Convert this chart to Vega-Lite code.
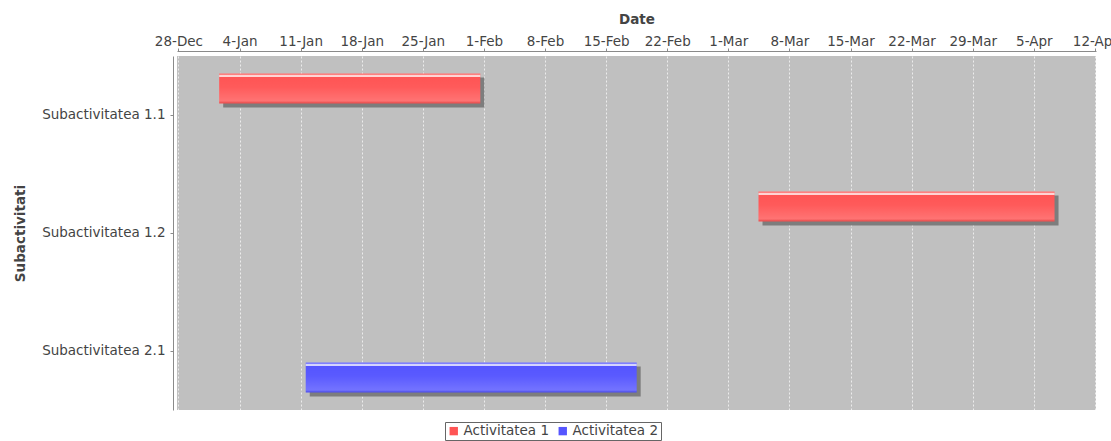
{
  "$schema": "https://vega.github.io/schema/vega-lite/v6.json",
  "width": 919,
  "height": 354,
  "autosize": {"type": "none"},
  "padding": {"left": 177, "top": 56, "right": 15, "bottom": 31},
  "background": "white",
  "config": {
    "font": "DejaVu Sans",
    "view": {"fill": "#c0c0c0", "stroke": null},
    "axis": {"labelColor": "#444444", "titleColor": "#444444", "labelFontSize": 13.5, "titleFontSize": 13.5, "titleFontWeight": "bold", "domainColor": "#8a8a8a", "tickColor": "#8a8a8a", "labelFont": "DejaVu Sans", "titleFont": "DejaVu Sans"}
  },
  "data": {
    "values": [
      {"task": "Subactivitatea 1.1", "series": "Activitatea 1", "start": "2013-01-01T16:00:00", "end": "2013-01-31T14:00:00"},
      {"task": "Subactivitatea 1.2", "series": "Activitatea 1", "start": "2013-03-04T11:00:00", "end": "2013-04-07T09:00:00"},
      {"task": "Subactivitatea 2.1", "series": "Activitatea 2", "start": "2013-01-11T14:00:00", "end": "2013-02-18T12:00:00"}
    ]
  },
  "encoding": {
    "y": {
      "field": "task", "type": "nominal", "title": "Subactivitati",
      "scale": {"domain": ["Subactivitatea 1.1", "Subactivitatea 1.2", "Subactivitatea 2.1"], "paddingInner": 0, "paddingOuter": 0},
      "axis": {"offset": 4, "tickSize": 3, "labelPadding": 5, "titlePadding": 14, "grid": false}
    },
    "x": {
      "field": "start", "type": "temporal", "title": "Date",
      "scale": {"domain": [{"year": 2012, "month": 12, "date": 27, "hours": 20}, {"year": 2013, "month": 4, "date": 12, "hours": 3}]},
      "axis": {
        "orient": "top", "offset": 5, "format": "%-d-%b", "tickSize": 3, "labelPadding": 0, "titlePadding": 8,
        "grid": true, "gridColor": "#ffffff", "gridDash": [2, 2], "gridOpacity": 0.7, "labelOverlap": false, "labelFlush": false,
        "values": [
          {"year": 2012, "month": 12, "date": 28},
          {"year": 2013, "month": 1, "date": 4},
          {"year": 2013, "month": 1, "date": 11},
          {"year": 2013, "month": 1, "date": 18},
          {"year": 2013, "month": 1, "date": 25},
          {"year": 2013, "month": 2, "date": 1},
          {"year": 2013, "month": 2, "date": 8},
          {"year": 2013, "month": 2, "date": 15},
          {"year": 2013, "month": 2, "date": 22},
          {"year": 2013, "month": 3, "date": 1},
          {"year": 2013, "month": 3, "date": 8},
          {"year": 2013, "month": 3, "date": 15},
          {"year": 2013, "month": 3, "date": 22},
          {"year": 2013, "month": 3, "date": 29},
          {"year": 2013, "month": 4, "date": 5},
          {"year": 2013, "month": 4, "date": 12}
        ]
      }
    },
    "x2": {"field": "end"}
  },
  "layer": [
    {
      "mark": {"type": "bar", "color": "#7d7d7d", "xOffset": 4, "x2Offset": 4, "cornerRadius": 0},
      "encoding": {
        "yOffset": {
          "field": "series", "type": "nominal",
          "scale": {"domain": ["Activitatea 1", "Activitatea 2"], "paddingInner": 0.434, "paddingOuter": 0.327, "range": [4, 122]}
        }
      }
    },
    {
      "mark": {"type": "bar", "cornerRadius": 0},
      "encoding": {
        "yOffset": {
          "field": "series", "type": "nominal",
          "scale": {"domain": ["Activitatea 1", "Activitatea 2"], "paddingInner": 0.434, "paddingOuter": 0.327}
        },
        "color": {
          "field": "series", "type": "nominal",
          "scale": {"domain": ["Activitatea 1", "Activitatea 2"], "range": ["#ff5555", "#5555ff"]},
          "legend": {
            "title": null, "orient": "none", "legendX": 268, "legendY": 366, "direction": "horizontal",
            "symbolType": "square", "symbolSize": 70, "symbolStrokeWidth": 0, "labelFontSize": 13.5, "labelColor": "#444444",
            "labelFont": "DejaVu Sans", "strokeColor": "#666666", "fillColor": "white", "padding": 2, "columnPadding": 6, "symbolOffset": 0, "labelOffset": 3
          }
        }
      }
    },
    {
      "mark": {
        "type": "bar", "cornerRadius": 0,
        "color": {
          "gradient": "linear", "x1": 0, "y1": 0, "x2": 0, "y2": 1,
          "stops": [
            {"offset": 0, "color": "rgba(255,255,255,0.25)"},
            {"offset": 0.05, "color": "rgba(255,255,255,0.25)"},
            {"offset": 0.06, "color": "rgba(255,255,255,0.75)"},
            {"offset": 0.11, "color": "rgba(255,255,255,0.75)"},
            {"offset": 0.13, "color": "rgba(255,255,255,0)"},
            {"offset": 0.45, "color": "rgba(255,255,255,0.03)"},
            {"offset": 0.92, "color": "rgba(255,255,255,0.18)"},
            {"offset": 1, "color": "rgba(0,0,0,0.06)"}
          ]
        }
      },
      "encoding": {
        "yOffset": {
          "field": "series", "type": "nominal",
          "scale": {"domain": ["Activitatea 1", "Activitatea 2"], "paddingInner": 0.434, "paddingOuter": 0.327}
        }
      }
    }
  ],
  "resolve": {"scale": {"yOffset": "independent"}}
}
